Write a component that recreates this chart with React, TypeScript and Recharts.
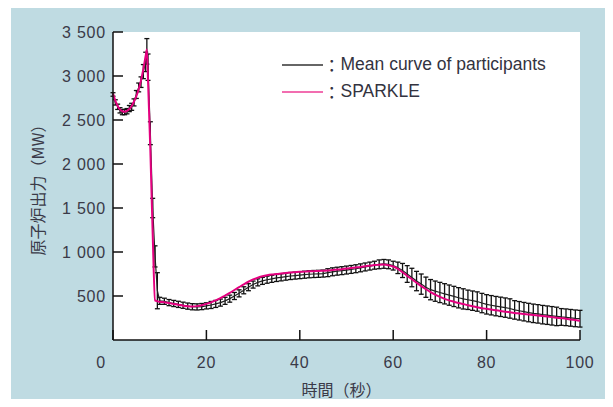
import { ComposedChart, Line, ErrorBar, XAxis, YAxis, CartesianGrid, Legend, Label } from 'recharts'

// time (s)
const times = [
  0, 0.5, 1, 1.5, 2, 2.5, 3, 3.5, 4, 4.5, 5, 5.5, 6, 6.5, 7, 7.25, 7.5, 8, 8.5, 9, 9.5, 10,
  11, 12, 13, 14, 15, 16, 17, 18, 19, 20,
  21, 22, 23, 24, 25, 26, 27, 28, 29, 30,
  31, 32, 33, 34, 35, 36, 37, 38, 39, 40,
  41, 42, 43, 44, 45, 46, 47, 48, 49, 50,
  51, 52, 53, 54, 55, 56, 57, 58, 59, 60,
  61, 62, 63, 64, 65, 66, 67, 68, 69, 70,
  71, 72, 73, 74, 75, 76, 77, 78, 79, 80,
  81, 82, 83, 84, 85, 86, 87, 88, 89, 90,
  91, 92, 93, 94, 95, 96, 97, 98, 99, 100,
]

// mean curve of participants (MW)
const meanPower = [
  2790, 2700, 2650, 2610, 2590, 2590, 2600, 2630, 2650, 2700, 2790, 2870, 2930, 3050, 3160, 3280, 3100, 2350, 1500, 950, 560, 445,
  440, 425, 415, 405, 395, 385, 378, 376, 380, 388,
  398, 410, 425, 445, 470, 500, 530, 565, 600, 630,
  655, 672, 685, 695, 705, 712, 720, 727, 732, 737,
  742, 747, 750, 752, 755, 765, 775, 782, 788, 795,
  802, 810, 820, 830, 840, 850, 860, 865, 860, 845,
  820, 790, 750, 710, 670, 635, 600, 572, 555, 540,
  525, 510, 495, 480, 467, 457, 447, 437, 420, 405,
  395, 385, 377, 368, 358, 342, 332, 322, 312, 303,
  297, 288, 282, 275, 268, 262, 258, 252, 246, 242,
]

// error (MW, +/-)
const meanError = [
  20, 30, 30, 30, 30, 30, 30, 35, 40, 40, 45, 50, 60, 80, 110, 145, 150, 130, 110, 120, 205, 40,
  35, 35, 35, 35, 35, 35, 35, 35, 35, 35,
  40, 40, 40, 40, 40, 40, 40, 40, 40, 40,
  40, 40, 40, 40, 40, 40, 40, 40, 40, 40,
  40, 40, 40, 40, 40, 45, 45, 45, 45, 45,
  45, 45, 45, 45, 45, 45, 50, 50, 50, 50,
  65, 80, 95, 105, 110, 115, 115, 115, 115, 115,
  115, 115, 115, 115, 115, 110, 110, 110, 110, 110,
  110, 110, 110, 110, 110, 105, 105, 105, 105, 105,
  105, 105, 105, 105, 105, 95, 95, 95, 95, 95,
]

// SPARKLE (MW)
const sparklePower = [
  2800, 2720, 2660, 2620, 2600, 2595, 2605, 2625, 2660, 2710, 2770, 2850, 2950, 3080, 3230, 3300, 2950, 2150, 1200, 450, 440, 435,
  430, 420, 410, 400, 390, 383, 380, 385, 395, 410,
  428, 450, 475, 505, 535, 568, 600, 632, 662, 688,
  708, 725, 737, 745, 750, 756, 762, 767, 771, 775,
  777, 780, 782, 784, 787, 790, 795, 800, 805, 812,
  818, 824, 830, 838, 845, 852, 856, 857, 850, 835,
  808, 770, 728, 690, 650, 612, 577, 545, 515, 490,
  468, 450, 435, 420, 408, 396, 384, 372, 362, 354,
  346, 338, 330, 322, 315, 308, 302, 296, 290, 284,
  278, 272, 266, 260, 254, 248, 242, 234, 226, 218,
]

const xTicks = [0, 20, 40, 60, 80, 100]
const yTicks = [500, 1000, 1500, 2000, 2500, 3000, 3500]
const seriesNames = ['Mean curve of participants', 'SPARKLE']

const data = times.map((t, i) => ({
  t,
  mean: meanPower[i],
  err: meanError[i],
  sparkle: sparklePower[i],
}))

const LATIN = '"Liberation Sans", Arial, "Noto Sans CJK JP", sans-serif'
const CJK = '"Noto Sans CJK JP", "Liberation Sans", sans-serif'
const TEXT = '#3a3a48'
const PINK = '#e4007f'
const BLACK = '#222222'
const legendColors = ['#333333', '#ee3d96']

const fmtY = (v: number) =>
  v >= 1000 ? `${Math.floor(v / 1000)} ${String(v % 1000).padStart(3, '0')}` : `${v}`

// eslint-disable-next-line @typescript-eslint/no-explicit-any
const XTick = (props: any) => {
  const { x, y, payload } = props
  // the "0" label sits left of the corner in the original
  const tx = payload.value === 0 ? x - 12 : x
  return (
    <text x={tx} y={y} dy="0.71em" textAnchor="middle" fill={TEXT} fontSize={16} fontFamily={LATIN} letterSpacing={0.8}>
      {payload.value}
    </text>
  )
}

const renderLegend = () => (
  <div style={{ fontFamily: LATIN, fontSize: 17.5, color: '#333340' }}>
    {seriesNames.map((name, i) => (
      <div key={name} style={{ display: 'flex', alignItems: 'center', height: 26.7, whiteSpace: 'nowrap' }}>
        <svg width={41} height={4} style={{ display: 'block', flex: 'none' }}>
          <line x1={0} y1={2} x2={41} y2={2} stroke={legendColors[i]} strokeWidth={1.3} />
        </svg>
        <span style={{ fontFamily: CJK }}>：</span>
        <span>{name}</span>
      </div>
    ))}
  </div>
)

export default function App() {
  return (
    <div style={{ position: 'relative', width: 613, height: 407, margin: -8, background: '#ffffff', overflow: 'hidden' }}>
      <div style={{ position: 'absolute', left: 11, top: 6, width: 602, height: 401, background: '#bfdbe2' }} />
      <div style={{ position: 'absolute', left: 0, top: 0 }}>
        <ComposedChart
          width={613}
          height={407}
          data={data}
          margin={{ top: 32, right: 33, bottom: 7, left: 0 }}
        >
          <CartesianGrid horizontal={false} vertical={false} fill="#ffffff" fillOpacity={1} />
          <XAxis
            dataKey="t"
            type="number"
            domain={[0, 100]}
            ticks={xTicks}
            height={60}
            stroke="#111"
            strokeWidth={1.5}
            tickSize={-10}
            tickMargin={27}
            tick={<XTick />}
          >
            <Label value="時間（秒）" position="insideBottom" offset={4} dx={-5} fill={TEXT} fontSize={16} fontFamily={CJK} />
          </XAxis>
          <YAxis
            type="number"
            domain={[0, 3500]}
            ticks={yTicks}
            width={113}
            stroke="#111"
            strokeWidth={1.5}
            tickSize={-10}
            tickMargin={17}
            tickFormatter={fmtY}
            tick={{ fill: TEXT, fontSize: 16, fontFamily: LATIN, letterSpacing: 0.8 }}
          >
            <Label value="原子炉出力（MW）" position="center" angle={-90} dx={-18} fill={TEXT} fontSize={16} fontFamily={CJK} />
          </YAxis>
          <Legend
            layout="vertical"
            align="center"
            verticalAlign="middle"
            content={renderLegend}
            wrapperStyle={{ left: 282, top: 51.6, width: 300, height: 54 }}
          />
          <Line
            name={seriesNames[0]}
            dataKey="mean"
            stroke={BLACK}
            strokeWidth={1.2}
            dot={false}
            isAnimationActive={false}
          >
            <ErrorBar dataKey="err" direction="y" width={2.5} stroke="#111111" strokeWidth={1.3} isAnimationActive={false} />
          </Line>
          <Line
            name={seriesNames[1]}
            dataKey="sparkle"
            type="monotone"
            stroke={PINK}
            strokeWidth={2}
            dot={false}
            isAnimationActive={false}
          />
        </ComposedChart>
      </div>
    </div>
  )
}
